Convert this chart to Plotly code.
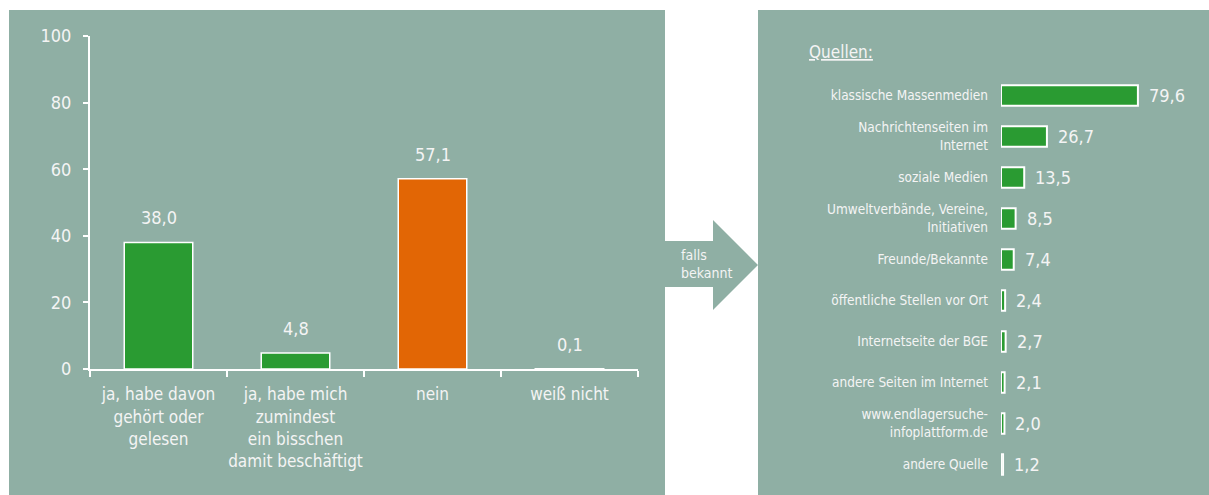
import plotly.graph_objects as go

# linke Grafik: Bekanntheit
kategorien = ["ja, habe davon<br>gehört oder<br>gelesen",
              "ja, habe mich<br>zumindest<br>ein bisschen<br>damit beschäftigt",
              "nein",
              "weiß nicht"]
anteile = [38.0, 4.8, 57.1, 0.1]
farben = ["#2A9B32", "#2A9B32", "#E26605", "#2A9B32"]
y_ticks = [0, 20, 40, 60, 80, 100]

# rechte Grafik: Quellen
quellen = ["klassische Massenmedien",
           "Nachrichtenseiten im<br>Internet",
           "soziale Medien",
           "Umweltverbände, Vereine,<br>Initiativen",
           "Freunde/Bekannte",
           "öffentliche Stellen vor Ort",
           "Internetseite der BGE",
           "andere Seiten im Internet",
           "www.endlagersuche-<br>infoplattform.de",
           "andere Quelle"]
quellen_werte = [79.6, 26.7, 13.5, 8.5, 7.4, 2.4, 2.7, 2.1, 2.0, 1.2]

W, H = 1209, 495
PANEL = "#8FAFA4"
TXT = "#F4F4F4"
FONT = "Liberation Sans Narrow, DejaVu Sans Condensed, Liberation Sans, Arial"


def px(x):
    return x / W


def py(y):
    return 1 - y / H


fig = go.Figure()

fig.add_trace(go.Bar(
    x=kategorien, y=anteile, width=0.5,
    marker=dict(color=farben, line=dict(color="white", width=1.5)),
    xaxis="x", yaxis="y", showlegend=False, hoverinfo="skip"))

fig.add_trace(go.Bar(
    x=quellen_werte, y=quellen, orientation="h", width=0.5,
    marker=dict(color="#2A9B32", line=dict(color="white", width=2)),
    xaxis="x2", yaxis="y2", showlegend=False, hoverinfo="skip"))

annotations = []
for k, v in zip(kategorien, anteile):
    annotations.append(dict(x=k, y=v, xref="x", yref="y", text=f"{v:.1f}".replace(".", ","),
                            showarrow=False, yanchor="bottom", yshift=12,
                            font=dict(size=18, color=TXT, family=FONT)))
for q, v in zip(quellen, quellen_werte):
    annotations.append(dict(x=v, y=q, xref="x2", yref="y2", text=f"{v:.1f}".replace(".", ","),
                            showarrow=False, xanchor="left", xshift=9,
                            font=dict(size=18, color=TXT, family=FONT)))

annotations.append(dict(x=px(807), y=py(52), xref="paper", yref="paper",
                        text="<u>Quellen:</u>", showarrow=False, xanchor="left", yanchor="middle",
                        font=dict(size=17, color=TXT, family=FONT)))
annotations.append(dict(x=px(679), y=py(264), xref="paper", yref="paper",
                        text="falls<br>bekannt", showarrow=False, xanchor="left", yanchor="middle",
                        align="left", font=dict(size=14, color=TXT, family=FONT)))

arrow = (f"M {px(664)},{py(241)} L {px(713)},{py(241)} L {px(713)},{py(220)} "
         f"L {px(758)},{py(265)} L {px(713)},{py(310)} L {px(713)},{py(287)} "
         f"L {px(664)},{py(287)} Z")

shapes = [
    dict(type="rect", xref="paper", yref="paper", x0=px(9), x1=px(665), y0=0, y1=py(10),
         fillcolor=PANEL, line=dict(width=0), layer="below"),
    dict(type="rect", xref="paper", yref="paper", x0=px(758), x1=1, y0=0, y1=py(10),
         fillcolor=PANEL, line=dict(width=0), layer="below"),
    dict(type="path", xref="paper", yref="paper", path=arrow,
         fillcolor=PANEL, line=dict(width=0), layer="below"),
]

fig.update_layout(
    width=W, height=H,
    margin=dict(l=0, r=0, t=0, b=0, autoexpand=False),
    paper_bgcolor="white", plot_bgcolor="rgba(0,0,0,0)",
    separators=",.",
    font=dict(family=FONT, color=TXT),
    shapes=shapes, annotations=annotations,
    xaxis=dict(domain=[px(90), px(638)], range=[-0.5, 3.5], showline=True, linecolor="white",
               linewidth=2, ticks="outside", tickson="boundaries", tickcolor="white", ticklen=6,
               tickwidth=1.5, showgrid=False, tickfont=dict(size=17, color=TXT),
               tickangle=0, automargin=False, ticklabelstandoff=9, fixedrange=True),
    yaxis=dict(domain=[py(369), py(36)], range=[0, 100], tickvals=y_ticks, showline=True,
               linecolor="white", linewidth=2, ticks="outside", tickcolor="white", ticklen=5,
               tickwidth=1.5, showgrid=False, zeroline=False, tickfont=dict(size=18, color=TXT),
               automargin=False, ticklabelstandoff=8, fixedrange=True),
    xaxis2=dict(domain=[px(1001), px(1173)], range=[0, 100], visible=False, anchor="y2",
                fixedrange=True),
    yaxis2=dict(domain=[py(485), py(75)], range=[9.5, -0.5], anchor="x2", showline=False,
                ticks="", showgrid=False, zeroline=False, automargin=False,
                tickfont=dict(size=13.5, color=TXT), ticklabelstandoff=12, fixedrange=True),
)

# Seitenrand entfernen, damit die Figur das ganze Fenster füllt
fig.write_html("out.html", config={"displayModeBar": False},
               post_script="document.body.style.margin='0';document.body.style.overflow='hidden';")
